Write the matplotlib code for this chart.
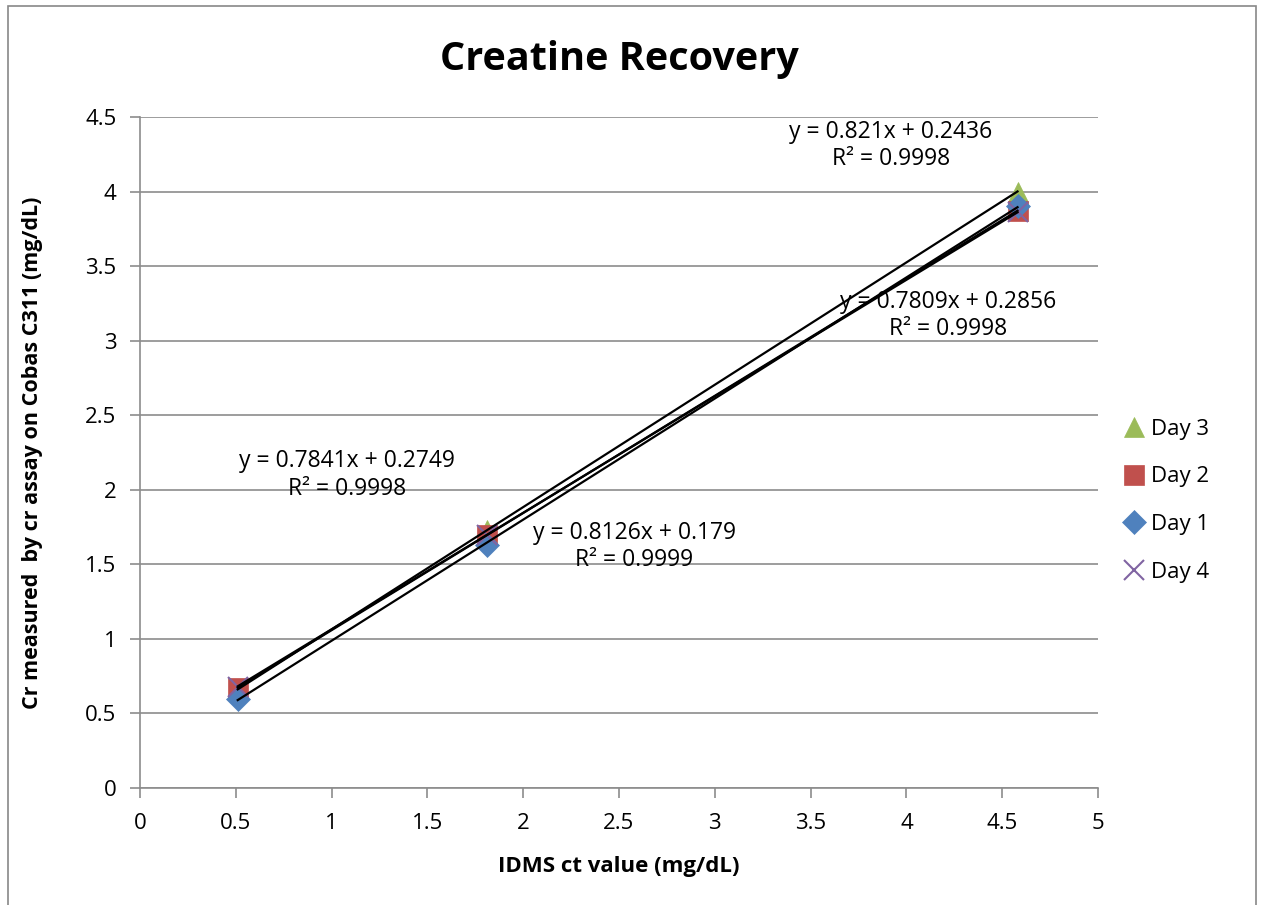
import numpy as np
import matplotlib.pyplot as plt
from matplotlib.patches import Rectangle

# IDMS target values and measured creatinine per day
idms = [0.51, 1.81, 4.58]
day1 = [0.60, 1.63, 3.90]
day2 = [0.67, 1.70, 3.87]
day3 = [0.66, 1.73, 4.00]
day4 = [0.68, 1.70, 3.86]

eq_labels = {
    'Day 1': 'y = 0.8126x + 0.179\nR² = 0.9999',
    'Day 2': 'y = 0.7841x + 0.2749\nR² = 0.9998',
    'Day 3': 'y = 0.821x + 0.2436\nR² = 0.9998',
    'Day 4': 'y = 0.7809x + 0.2856\nR² = 0.9998',
}
eq_pos = {
    'Day 1': (2.58, 1.62),
    'Day 2': (1.08, 2.10),
    'Day 3': (3.92, 4.31),
    'Day 4': (4.22, 3.17),
}

plt.rcParams['font.family'] = ['Open Sans', 'DejaVu Sans']

fig = plt.figure(figsize=(12.62, 9.05), dpi=100, facecolor='w')
fig.patches.append(Rectangle((8 / 1262, -0.1), 1248 / 1262, 1.1 - 6 / 905,
                             transform=fig.transFigure, fill=False,
                             edgecolor='#888888', lw=1.2))
ax = fig.add_axes([140 / 1262, 117 / 905, 958 / 1262, 671 / 905])

series = [
    ('Day 3', day3, '^', '#9BBB59', 14),
    ('Day 2', day2, 's', '#C0504D', 14),
    ('Day 1', day1, 'D', '#4F81BD', 12),
    ('Day 4', day4, 'x', '#8064A2', 14),
]

# trendlines
for name, vals, mk, col, ms in series:
    k, b = np.polyfit(idms, vals, 1)
    xs = np.array([min(idms), max(idms)])
    ax.plot(xs, k * xs + b, color='black', lw=1.6, zorder=4)

for name, vals, mk, col, ms in series:
    ax.plot(idms, vals, linestyle='none', marker=mk, color=col, ms=ms,
            mew=1.5 if mk == 'x' else 0.5, label=name, zorder=3)
    x0, y0 = eq_pos[name]
    ax.text(x0, y0, eq_labels[name], ha='center', va='center', fontsize=16.5,
            linespacing=1.2, zorder=5)

ax.set_xlim(0, 5)
ax.set_ylim(0, 4.5)
ax.set_xticks(np.arange(0, 5.01, 0.5))
ax.set_yticks(np.arange(0, 4.51, 0.5))
ax.set_xticklabels(['0', '0.5', '1', '1.5', '2', '2.5', '3', '3.5', '4', '4.5', '5'])
ax.set_yticklabels(['0', '0.5', '1', '1.5', '2', '2.5', '3', '3.5', '4', '4.5'])
ax.grid(axis='y', color='#8C8C8C', lw=1.2)
ax.set_axisbelow(True)
for s in ['top', 'right']:
    ax.spines[s].set_visible(False)
for s in ['left', 'bottom']:
    ax.spines[s].set_color('#8C8C8C')
    ax.spines[s].set_linewidth(1.2)
ax.tick_params(axis='both', color='#8C8C8C', length=7, width=1.2, labelsize=16)
ax.tick_params(axis='x', pad=11)
ax.tick_params(axis='y', pad=10)

ax.set_title('Creatine Recovery', fontsize=28.5, fontweight='bold', pad=34)
ax.set_xlabel('IDMS ct value (mg/dL)', fontsize=16, fontweight='bold', labelpad=16)
ax.set_ylabel('Cr measured  by cr assay on Cobas C311 (mg/dL)', fontsize=15.5,
              fontweight='bold', labelpad=30)

ax.legend(loc='center left', bbox_to_anchor=(1.0, 0.428), frameon=False,
          fontsize=16, handletextpad=0.1, labelspacing=1.2, handlelength=1.4)

plt.savefig('out.png', dpi=100)
